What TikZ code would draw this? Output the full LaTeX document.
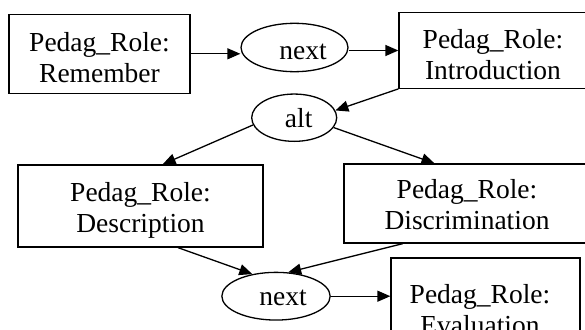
\documentclass[tikz,border=0pt]{standalone}
\usepackage{fontspec}
\setmainfont{Liberation Serif}
\usetikzlibrary{arrows.meta,shapes.geometric}
\tikzset{
  box/.style={draw, line width=1.3pt, rectangle, inner sep=0pt},
  oval/.style={draw, line width=1.3pt, ellipse, inner sep=0pt},
  txt/.style={inner sep=0pt, align=center, font=\fontsize{27.5}{31}\selectfont},
  arr/.style={line width=1.3pt, -{Triangle[length=13pt,width=11pt]}}
}
\begin{document}
\begin{tikzpicture}[x=1pt,y=-1pt]
\useasboundingbox (0,0) rectangle (585,329);
\clip (0,0) rectangle (585,329);
\fill[white] (0,0) rectangle (585,329);
% boxes
\node[box, minimum width=181pt, minimum height=79pt] (rem) at (99.5,53.8) {};
\node[txt] (remT) at (99.5,60.3) {\strut Pedag\_Role:\\\strut Remember};
\node[box, minimum width=188pt, minimum height=75.5pt] (intro) at (493,50.5) {};
\node[txt] (introT) at (493,57.6) {\strut Pedag\_Role:\\\strut Introduction};
\node[box, minimum width=245pt, minimum height=82pt] (desc) at (140.5,206) {};
\node[txt] (descT) at (140.5,211) {\strut Pedag\_Role:\\\strut Description};
\node[box, minimum width=246pt, minimum height=79pt] (disc) at (467,203.5) {};
\node[txt] (discT) at (467,207.8) {\strut Pedag\_Role:\\\strut Discrimination};
\node[box, minimum width=189pt, minimum height=100pt] (eval) at (485.5,308) {};
\node[txt] (evalT) at (480,312.3) {\strut Pedag\_Role:\\\strut Evaluation};
% ellipses
\node[oval, minimum width=107pt, minimum height=48.4pt] (n1) at (294.5,47.5) {};
\node[txt, anchor=base] (n1T) at (303,59.3) {next};
\node[oval, minimum width=85pt, minimum height=47.3pt] (alt) at (294.2,117.7) {};
\node[txt, anchor=base] (altT) at (298.7,127.3) {alt};
\node[oval, minimum width=108.3pt, minimum height=47.7pt] (n2) at (276,296.2) {};
\node[txt, anchor=base] (n2T) at (283,305.7) {next};
% connectors
\draw[arr] (rem.east) -- (rem.east -| n1.west);
\draw[arr] (n1.east |- intro.west) -- (intro.west);
\draw[arr] (intro.south west) -- (alt.10);
\draw[arr] (alt.190) -- (desc.62);
\draw[arr] (alt.-14) -- (disc.129);
\draw[arr] (desc.-48) -- (n2.137);
\draw[arr] (disc.212) -- (n2.63);
\draw[arr] (n2.east) -- (n2.east -| eval.west);
\end{tikzpicture}
\end{document}
